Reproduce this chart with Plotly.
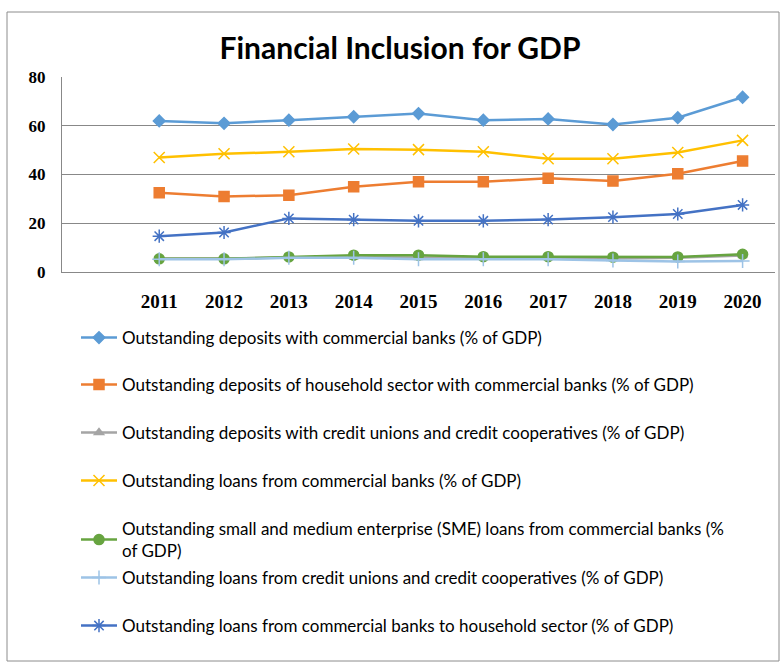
import plotly.graph_objects as go

years = [2011, 2012, 2013, 2014, 2015, 2016, 2017, 2018, 2019, 2020]

names = [
    "Outstanding deposits with commercial banks (% of GDP)",
    "Outstanding deposits of household sector with commercial banks (% of GDP)",
    "Outstanding deposits with credit unions and credit cooperatives (% of GDP)",
    "Outstanding loans from commercial banks (% of GDP)",
    "Outstanding small and medium enterprise (SME) loans from commercial banks (%<br>of GDP)",
    "Outstanding loans from credit unions and credit cooperatives (% of GDP)",
    "Outstanding loans from commercial banks to household sector (% of GDP)",
]

dep_commercial = [62.0, 61.0, 62.3, 63.7, 65.0, 62.3, 62.8, 60.5, 63.3, 71.7]
dep_household = [32.5, 31.0, 31.5, 35.0, 37.0, 37.0, 38.5, 37.3, 40.3, 45.5]
dep_credit_unions = [5.5, 5.5, 6.0, 6.2, 6.0, 6.0, 6.0, 5.5, 5.8, 6.8]
loans_commercial = [47.0, 48.5, 49.3, 50.5, 50.2, 49.3, 46.5, 46.5, 49.0, 54.0]
loans_sme = [5.4, 5.4, 6.2, 6.9, 6.9, 6.3, 6.3, 6.1, 6.2, 7.3]
loans_credit_unions = [5.2, 5.2, 5.8, 5.8, 5.2, 5.2, 5.2, 4.7, 4.3, 4.5]
loans_household = [14.7, 16.2, 22.0, 21.5, 21.0, 21.0, 21.5, 22.5, 23.8, 27.5]

series = [dep_commercial, dep_household, dep_credit_unions, loans_commercial,
          loans_sme, loans_credit_unions, loans_household]
colors = ["#5B9BD5", "#ED7D31", "#A5A5A5", "#FFC000", "#67A440", "#9DC3E6", "#4472C4"]
symbols = ["diamond", "square", "triangle-up", "x-thin-open", "circle",
           "cross-thin-open", "asterisk-open"]
msizes = [9, 10, 8, 11, 10, 10, 11]

# legend text-center pixel rows
leg_rows = [338, 385, 433, 481, 540, 578, 626]

W, H = 781, 662
L, R, T, B = 62, 6, 77, 390
ph = H - T - B
pw = W - L - R

LEG_FONT = "Lato, Liberation Sans"

fig = go.Figure()
legend_layouts = {}
for i, (vals, nm, c, s, ms) in enumerate(zip(series, names, colors, symbols, msizes)):
    lname = "legend" if i == 0 else f"legend{i+1}"
    fig.add_trace(go.Scatter(
        x=years, y=vals, name=nm, mode="lines+markers",
        line=dict(color=c, width=2.5),
        marker=dict(symbol=s, size=ms, color=c, line=dict(color=c, width=1.5)),
        legend=lname,
    ))
    ypaper = (H - B - leg_rows[i]) / ph
    legend_layouts[lname] = dict(
        x=(76 - L) / pw, y=ypaper, xanchor="left", yanchor="middle",
        bgcolor="rgba(0,0,0,0)", borderwidth=0, itemwidth=36,
        font=dict(family=LEG_FONT, size=17, color="#000000"),
        tracegroupgap=0,
    )

# outer chart border
px0, px1, py0, py1 = 7, 779, 12, 661
fig.add_shape(type="rect", xref="paper", yref="paper",
              x0=(px0 - L) / pw, x1=(px1 - L) / pw,
              y0=(H - B - py1) / ph, y1=(H - B - py0) / ph,
              line=dict(color="#8c8c8c", width=1), fillcolor="rgba(0,0,0,0)", layer="below")

fig.update_layout(
    width=W, height=H,
    margin=dict(l=L, r=R, t=T, b=B),
    paper_bgcolor="white", plot_bgcolor="white",
    title=dict(text="<b>Financial Inclusion for GDP</b>", x=400 / W, xref="container", xanchor="center",
               y=(H - 48) / H, yanchor="middle",
               font=dict(family="Lato, Liberation Sans", size=30, color="#000000")),
    showlegend=True,
    **legend_layouts,
)
fig.update_xaxes(range=[2009.5, 2020.5], tickmode="array", tickvals=years,
                 ticktext=[str(y) for y in years], showgrid=False, zeroline=False,
                 showline=True, linecolor="#888888", linewidth=1, ticks="", ticklabelstandoff=12,
                 tickfont=dict(family="Liberation Serif", size=19, color="#000000", weight="bold"),
                 fixedrange=True)
fig.update_yaxes(range=[0, 80], tickvals=[0, 20, 40, 60, 80], showgrid=True, gridcolor="#888888",
                 gridwidth=1, zeroline=False, showline=True, linecolor="#888888", linewidth=1,
                 ticks="", ticklabelstandoff=12,
                 tickfont=dict(family="Liberation Serif", size=17, color="#000000", weight="bold"))

fig.write_html("out.html")
